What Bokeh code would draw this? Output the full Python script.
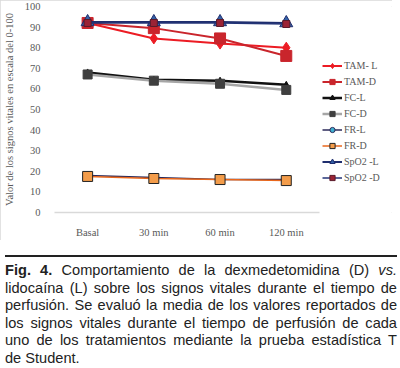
from bokeh.plotting import figure
from bokeh.models import Legend, LegendItem, Div, InlineStyleSheet, FixedTicker
from bokeh.layouts import column
from bokeh.embed import file_html
from bokeh.resources import INLINE

categories = ["Basal", "30 min", "60 min", "120 min"]
tam_l = [92, 84.5, 82, 80]
tam_d = [92, 89.5, 84.5, 76]
fc_l = [68, 64.5, 64, 62]
fc_d = [67, 64, 62.5, 59.5]
fr_l = [18, 17, 16, 16]
fr_d = [17.5, 16.5, 16, 15.5]
spo2_l = [92.5, 92.5, 92.5, 92]
spo2_d = [92, 92, 92, 91.5]
y_ticks = [0, 10, 20, 30, 40, 50, 60, 70, 80, 90, 100]
caption_lines = [
    '<b>Fig. 4.</b> Comportamiento de la dexmedetomidina (D) <i>vs.</i>',
    'lidocaína (L) sobre los signos vitales durante el tiempo de',
    'perfusión. Se evaluó la media de los valores reportados de',
    'los signos vitales durante el tiempo de perfusión de cada',
    'uno de los tratamientos mediante la prueba estadística T',
    'de Student.',
]

xs = list(range(len(categories)))

p = figure(x_range=(-0.5, 4.604), y_range=(0, 100), width=392, height=240,
           output_backend="svg", toolbar_location=None,
           min_border_left=50, min_border_right=0, min_border_top=6, min_border_bottom=23)
p.outline_line_color = None
p.xgrid.grid_line_color = None
p.ygrid.grid_line_color = None
p.background_fill_color = "white"
p.border_fill_color = "white"
p.stylesheets = [InlineStyleSheet(css=":host{outline:1px solid #d9d9d9; outline-offset:-1px;}")]

serif = "Liberation Serif"
p.yaxis.ticker = FixedTicker(ticks=y_ticks)
p.yaxis.axis_line_color = None
p.yaxis.major_tick_line_color = None
p.yaxis.minor_tick_line_color = None
p.yaxis.major_label_text_font = serif
p.yaxis.major_label_text_font_size = "10.5px"
p.yaxis.major_label_text_color = "#595959"
p.yaxis.major_label_standoff = 8
p.yaxis.axis_label = "Valor de los signos vitales en escala del 0-100"
p.yaxis.axis_label_text_font = serif
p.yaxis.axis_label_text_font_size = "10.5px"
p.yaxis.axis_label_text_font_style = "normal"
p.yaxis.axis_label_text_color = "#595959"
p.yaxis.axis_label_standoff = 7

p.xaxis.ticker = FixedTicker(ticks=xs)
p.xaxis.major_label_overrides = {i: c for i, c in zip(xs, categories)}
p.xaxis.bounds = (-0.5, len(categories) - 0.5)
p.xaxis.axis_line_color = "#d9d9d9"
p.xaxis.axis_line_width = 1.5
p.xaxis.major_tick_line_color = None
p.xaxis.minor_tick_line_color = None
p.xaxis.major_label_text_font = serif
p.xaxis.major_label_text_font_size = "10.5px"
p.xaxis.major_label_text_color = "#595959"
p.xaxis.major_label_standoff = 8

items = []

def series(name, vals, lcolor, lwidth, marker, msize, mfill, mline):
    r1 = p.line(xs, vals, line_color=lcolor, line_width=lwidth)
    r2 = p.scatter(xs, vals, marker=marker, size=msize, fill_color=mfill,
                   line_color=mline, line_width=1)
    items.append(LegendItem(label=name, renderers=[r1, r2]))

series("TAM- L", tam_l, "#ec1c24", 2, "diamond", 11, "#ec1c24", "#ec1c24")
series("TAM-D", tam_d, "#c9252c", 2, "square", 11, "#c9252c", "#c9252c")
series("FC-L", fc_l, "#111111", 2.5, "triangle", 6, "#111111", "#111111")
series("FC-D", fc_d, "#a6a6a6", 2.5, "square", 9, "#3f3f3f", "#3f3f3f")
series("FR-L", fr_l, "#2b2a5a", 1.5, "circle", 7, "#3fb0d0", "#2b2a5a")
series("FR-D", fr_d, "#e9671c", 1.5, "square", 10, "#f39c4a", "#222222")
series("SpO2 -L", spo2_l, "#1f2e6e", 2, "triangle", 13, "#3563a8", "#1f2e6e")
series("SpO2 -D", spo2_d, "#243577", 1.5, "square", 7, "#9b2335", "#5a1a2a")

legend = Legend(items=items, location=(268, 28), orientation="vertical")
legend.label_text_font = serif
legend.label_text_font_size = "10px"
legend.label_text_color = "#595959"
legend.glyph_width = 20
legend.glyph_height = 13
legend.label_height = 13
legend.spacing = 3
legend.label_standoff = 2
legend.padding = 0
legend.margin = 0
legend.border_line_color = None
legend.background_fill_alpha = 0
p.add_layout(legend, "center")

rule = Div(text='<div style="width:392px;height:2px;background:#222;margin-top:2px"></div>',
           width=392, height=7)

line_style = ("font-family:'Liberation Sans Narrow','Liberation Sans',sans-serif;"
              "font-size:14.6px;line-height:17.5px;height:17.5px;color:#222222;width:392px;"
              "white-space:nowrap;")
html_parts = []
for i, ln in enumerate(caption_lines):
    if i < len(caption_lines) - 1:
        st = line_style + "text-align:justify;text-align-last:justify;"
    else:
        st = line_style + "text-align:left;"
    html_parts.append('<div style="%s">%s</div>' % (st, ln))
caption = Div(text="".join(html_parts), width=392, height=105)

layout = column(p, rule, caption, spacing=0)

open("out.html", "w").write(file_html(layout, INLINE))
